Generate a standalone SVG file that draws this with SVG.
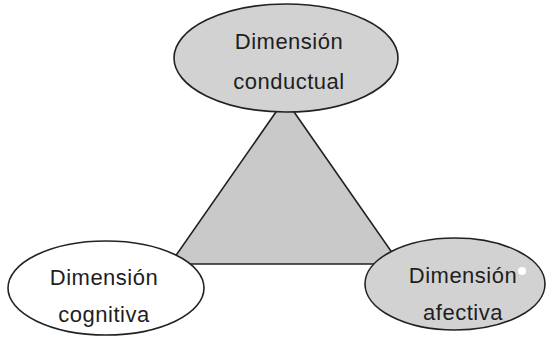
<svg xmlns="http://www.w3.org/2000/svg" width="547" height="348" viewBox="0 0 547 348">
<style>
.shape{stroke:#222;stroke-width:1.6}
.gray{fill:#d2d2d2}
.white{fill:#fff}
.lbl{font-family:"Liberation Sans",Arial,sans-serif;font-size:22px;fill:#1e1e1e;text-anchor:middle;letter-spacing:0.5px}
</style>
<rect width="547" height="348" fill="#fff"/>
<g id="connectors">
<polygon class="shape" points="285,99 170,264 400,264" fill="#c9c9c9" stroke-width="2"/>
</g>
<g id="node-conductual">
<ellipse class="shape gray" cx="286" cy="58" rx="112" ry="54"/>
<text class="lbl" x="289" y="49">Dimensión</text>
<text class="lbl" x="289" y="89">conductual</text>
</g>
<g id="node-cognitiva">
<ellipse class="shape white" cx="106" cy="288" rx="98" ry="47"/>
<text class="lbl" x="104" y="285">Dimensión</text>
<text class="lbl" x="104" y="322">cognitiva</text>
</g>
<g id="node-afectiva">
<ellipse class="shape gray" cx="455" cy="284" rx="90" ry="46"/>
<text class="lbl" x="463" y="283">Dimensión</text>
<text class="lbl" x="463" y="320">afectiva</text>
<circle cx="522" cy="271" r="4" fill="#fff"/>
</g>
</svg>
